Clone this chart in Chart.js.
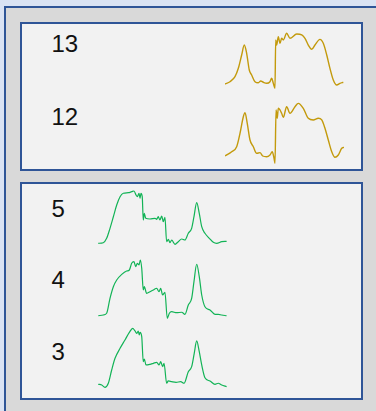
<!DOCTYPE html>
<html>
<head>
<meta charset="utf-8">
<script src="https://cdn.jsdelivr.net/npm/chart.js@4.4.0/dist/chart.umd.min.js"></script>
<style>
    html, body {
        margin: 0;
        padding: 0;
        width: 376px;
        height: 411px;
        overflow: hidden;
        background: #dae3f3;
        font-family: "Liberation Sans", Arial, sans-serif;
    }
    .frame {
        position: absolute;
        left: 4px;
        top: 6px;
        width: 420px;
        height: 430px;
        border: 2px solid #2f5597;
        background: #d9d9d9;
    }
    .panel {
        position: absolute;
        box-sizing: border-box;
        left: 20px;
        width: 343px;
        border: 2px solid #2f5597;
        background: #f2f2f2;
    }
    .lbl {
        position: absolute;
        left: 51.5px;
        font-size: 24px;
        line-height: 1;
        color: #111;
    }
    canvas {
        position: absolute;
    }
</style>
</head>
<body>
<div class="frame"></div>
<div class="panel" style="top:22px; height:149px;"></div>
<div class="panel" style="top:182px; height:218px;"></div>

<div class="lbl" style="top:32.4px;">13</div>
<div class="lbl" style="top:104.7px;">12</div>
<div class="lbl" style="top:196.7px;">5</div>
<div class="lbl" style="top:268px;">4</div>
<div class="lbl" style="top:339.7px;">3</div>

<canvas id="c13" width="125" height="76" style="left:222px; top:19px;"></canvas>
<canvas id="c12" width="125" height="76" style="left:222px; top:91px;"></canvas>
<canvas id="c5" width="135" height="76" style="left:95px; top:177px;"></canvas>
<canvas id="c4" width="135" height="76" style="left:95px; top:249px;"></canvas>
<canvas id="c3" width="135" height="76" style="left:95px; top:320px;"></canvas>

<script>
// traces: [time, level]
const trace13 = [
    [0, 12.5], [4.2, 16.1], [8.4, 23.9], [11.2, 37], [14, 57.8], [16.2, 73.4], [18.2, 60.5],
    [20.4, 34.4], [22.4, 26.6], [25.2, 16.1], [28, 14.5], [30, 17.2], [32.2, 15.2], [35, 13.6],
    [37.8, 16.1], [39.2, 21.4], [40.6, 13.6], [42, 5.8], [42.6, 81.3], [43.4, 73.4], [44.8, 86.4],
    [46.2, 76.1], [47.6, 83.9], [49, 81.3], [51.8, 91.7], [54.6, 83.9], [60.3, 90.6], [64.5, 89.1],
    [67.2, 83.9], [70, 73.4], [72.9, 66.7], [75.6, 73.4], [79.8, 82.3], [82.6, 76.1], [85.5, 57.8],
    [88.2, 37], [91, 18.8], [93.9, 10.9], [96.6, 13.6], [99.4, 15.2]
];
const trace12 = [
    [0, 12.5], [5.6, 19.2], [9.8, 27], [12.6, 48], [15.4, 73.9], [16.8, 80.2], [18.7, 63.6],
    [21, 37.5], [23.8, 27], [26.6, 16.7], [29.4, 17.7], [31.7, 12.5], [35, 11.4], [37.8, 14.1],
    [39.7, 19.2], [41.2, 8.9], [42, 1.1], [42.9, 84.4], [43.9, 71.4], [44.8, 87], [46.2, 84.4],
    [47.6, 79.2], [49, 73], [51.8, 89.5], [54.6, 79.2], [58.8, 89.5], [61.6, 94.8], [65.8, 87],
    [70, 71.4], [74.2, 68.8], [78.4, 71.4], [81.3, 68.8], [84, 55.8], [86.8, 37.5], [89.7, 19.2],
    [92.4, 10.5], [95.2, 14.1], [98.1, 24.5], [100, 26.1]
];
const trace5 = [
    [0.2, 10.5], [4.1, 11.4], [6.7, 18.3], [9.3, 33.9], [11.9, 52], [14.5, 70.3], [17.1, 83.3],
    [19.6, 88.6], [23.5, 89.5], [26.1, 91.1], [27.9, 92.2], [29.5, 85.9], [30.5, 83.3], [31.8, 88.6],
    [32.6, 80.8], [33.3, 88.6], [34.3, 83.3], [35.1, 46.9], [35.9, 57.3], [37, 49.5], [40.3, 48.4],
    [44.2, 49.5], [45.5, 48], [46.7, 52], [48, 46.9], [49.4, 53.1], [50.6, 44.2], [51.9, 51.1],
    [53.2, 13], [54.5, 16.7], [55.8, 11.4], [57.1, 15.6], [59.7, 8.9], [62.2, 13], [64.9, 17.2],
    [67.4, 15.6], [70, 26.1], [72.6, 33.9], [74.4, 52], [76.5, 73.9], [78.5, 57.3], [80.4, 36.4],
    [82.9, 26.1], [86.3, 18.3], [89.4, 12], [92, 10.5], [95.9, 13], [99.7, 13.6]
];
const trace4 = [
    [0.2, 9.8], [4.1, 10.9], [6.7, 13.6], [9.3, 37], [11.9, 55.2], [14.5, 65.6], [18.4, 74.5],
    [22.2, 79.7], [24.3, 81.3], [26.1, 91.7], [27.9, 94.2], [29.2, 86.4], [30.5, 91.7], [31.8, 89.1],
    [32.8, 96.9], [33.9, 83.9], [35.1, 50], [35.9, 55.2], [37.7, 44.8], [40.3, 47.3], [42.9, 50],
    [45.5, 52.7], [47.3, 47.3], [48.6, 52.7], [50.1, 42.2], [51.9, 46.4], [53.7, 5.8], [55.3, 13.6],
    [57.1, 16.1], [61, 14.5], [64.9, 15.2], [67.4, 12], [70, 26.6], [72.6, 37], [74.4, 63],
    [76.5, 90.2], [78.5, 70.8], [80.4, 42.2], [82.9, 23.9], [86.8, 18.8], [90.7, 12], [93.2, 12],
    [95.9, 10.9], [99.7, 9.8]
];
const trace3 = [
    [0.2, 13.6], [2.9, 12.5], [5.4, 8.9], [8, 15.2], [10.6, 35.9], [13.2, 54.2], [17.1, 69.8],
    [20.9, 82.8], [24.3, 94.8], [26.9, 101.1], [28.7, 96.9], [30, 93.3], [31.2, 96.9], [32, 90.6],
    [32.6, 94.8], [33.9, 88], [35.1, 48.9], [35.9, 53.1], [37.2, 43.8], [40.3, 44.8], [42.9, 46.4],
    [45.5, 48], [47.3, 43.8], [48.6, 48.9], [50.1, 41.1], [51.2, 46.4], [53.2, 15.2], [54.5, 18.8],
    [57.1, 17.7], [60.5, 16.7], [64.1, 17.7], [66.7, 15.2], [70, 33.3], [72.6, 41.1], [74.6, 62],
    [76.5, 81.3], [78.5, 64.5], [80.4, 43.8], [82.9, 23.9], [86.8, 18.8], [90.7, 13.6], [93.2, 15.2],
    [95.9, 12.5], [99.7, 9.8]
];

const gold = '#c39a0c';
const green = '#12b356';

function spark(id, trace, color, width) {
    return new Chart(document.getElementById(id), {
        type: 'line',
        data: {
            datasets: [{
                data: trace.map(([x, y]) => ({ x: x, y: y })),
                borderColor: color,
                borderWidth: width,
                pointRadius: 0,
                fill: false,
                cubicInterpolationMode: 'monotone'
            }]
        },
        options: {
            responsive: false,
            animation: false,
            devicePixelRatio: 1,
            layout: { padding: 3 },
            plugins: {
                legend: { display: false },
                tooltip: { enabled: false }
            },
            scales: {
                x: { type: 'linear', min: 0, max: 100, display: false },
                y: { min: 0, max: 109.375, display: false }
            }
        }
    });
}

spark('c13', trace13, gold, 1.4);
spark('c12', trace12, gold, 1.4);
spark('c5', trace5, green, 1.2);
spark('c4', trace4, green, 1.2);
spark('c3', trace3, green, 1.2);
</script>
</body>
</html>
